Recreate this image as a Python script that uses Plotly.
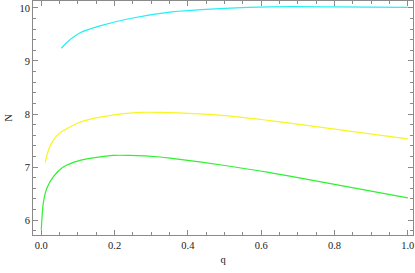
import plotly.graph_objects as go

q_cyan = [0.0546, 0.075, 0.106, 0.16, 0.242, 0.351, 0.501, 0.624, 0.8, 1.0]
n_cyan = [9.24, 9.38, 9.53, 9.66, 9.80, 9.92, 9.99, 10.02, 10.02, 10.01]

q_yellow = [0.011, 0.02, 0.032, 0.05, 0.069, 0.10, 0.16, 0.27, 0.324, 0.501, 0.624, 0.678, 1.0]
n_yellow = [7.09, 7.33, 7.50, 7.64, 7.72, 7.83, 7.94, 8.03, 8.03, 7.97, 7.876, 7.83, 7.53]

q_green = [0.0, 0.0055, 0.0147, 0.033, 0.06, 0.106, 0.197, 0.242, 0.324, 0.351, 0.501, 0.624, 0.678, 1.0]
n_green = [5.82, 6.32, 6.59, 6.82, 7.0, 7.125, 7.22, 7.22, 7.19, 7.17, 7.03, 6.895, 6.83, 6.42]

x_ticks = [0.0, 0.2, 0.4, 0.6, 0.8, 1.0]
x_tick_labels = ["0.0", "0.2", "0.4", "0.6", "0.8", "1.0"]
y_ticks = [6, 7, 8, 9, 10]
y_tick_labels = ["6", "7", "8", "9", "10"]

fig = go.Figure()
for xs, ys, col in [(q_cyan, n_cyan, "#22F0F5"), (q_yellow, n_yellow, "#F8F520"), (q_green, n_green, "#30F030")]:
    fig.add_trace(go.Scatter(x=xs, y=ys, mode="lines", line=dict(color=col, width=1.2, shape="spline", smoothing=0.8),
                             showlegend=False, hoverinfo="skip"))

axcol = "#8a8a8a"
font = dict(family="Times New Roman, Liberation Serif, serif", size=10.5, color="#222")
fig.update_layout(
    width=415, height=273,
    margin=dict(l=33, r=2, t=1, b=38, autoexpand=False),
    paper_bgcolor="white", plot_bgcolor="white",
    font=font,
    xaxis=dict(range=[-0.0226, 1.0142], tickvals=x_ticks, ticktext=x_tick_labels,
               showgrid=False, zeroline=False, showline=True, linecolor=axcol, linewidth=1,
               mirror="allticks", ticks="inside", ticklen=5, tickcolor=axcol, tickwidth=1,
               automargin=False, ticklabeloverflow="allow",
               minor=dict(dtick=0.05, ticks="inside", ticklen=3, tickcolor=axcol, showgrid=False),
               title=dict(text="q", font=font, standoff=6)),
    yaxis=dict(range=[5.72, 10.13], tickvals=y_ticks, ticktext=y_tick_labels,
               showgrid=False, zeroline=False, showline=True, linecolor=axcol, linewidth=1,
               mirror="allticks", ticks="inside", ticklen=5, tickcolor=axcol, tickwidth=1,
               automargin=False, ticklabeloverflow="allow",
               minor=dict(dtick=0.2, ticks="inside", ticklen=3, tickcolor=axcol, showgrid=False),
               title=dict(text="N", font=font, standoff=4)),
)
fig.write_html("out.html", config={"displayModeBar": False},
               post_script="document.body.style.margin='0';")
